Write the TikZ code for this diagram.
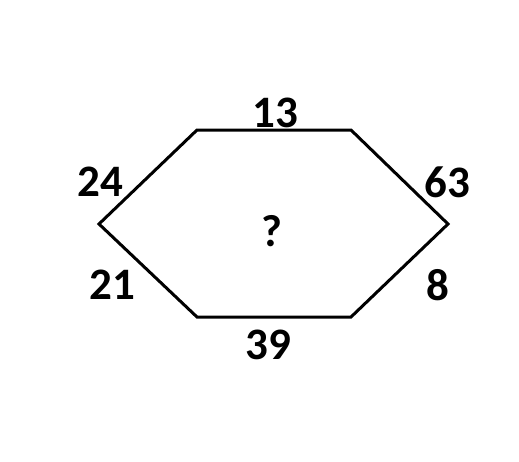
\documentclass[tikz,border=0pt]{standalone}
\usepackage{fontspec}
\setmainfont{Carlito}
\begin{document}
\begin{tikzpicture}[
  x=1pt, y=-1pt,
  hexedge/.style = {line width=3pt, line join=miter, black},
  hexlbl/.style = {font=\fontsize{45}{50}\selectfont\bfseries, inner sep=0pt, anchor=center}
]
  \useasboundingbox (0,0) rectangle (519,461);
  % corners
  \coordinate (tl) at (197,130);
  \coordinate (tr) at (351,130);
  \coordinate (r)  at (448,224);
  \coordinate (br) at (351,317);
  \coordinate (bl) at (197,317);
  \coordinate (l)  at (99,224);
  \draw[hexedge] (tl) -- (tr) -- (r) -- (br) -- (bl) -- (l) -- cycle;
  % labels
  \node[hexlbl] (top) at (275,113) {13};
  \node[hexlbl] (topright) at (447,182) {63};
  \node[hexlbl] (botright) at (438,285) {8};
  \node[hexlbl] (bot) at (268,345) {39};
  \node[hexlbl] (botleft) at (112,285) {21};
  \node[hexlbl] (topleft) at (100,182) {24};
  \node[hexlbl] (mid) at (272,231) {?};
\end{tikzpicture}
\end{document}
